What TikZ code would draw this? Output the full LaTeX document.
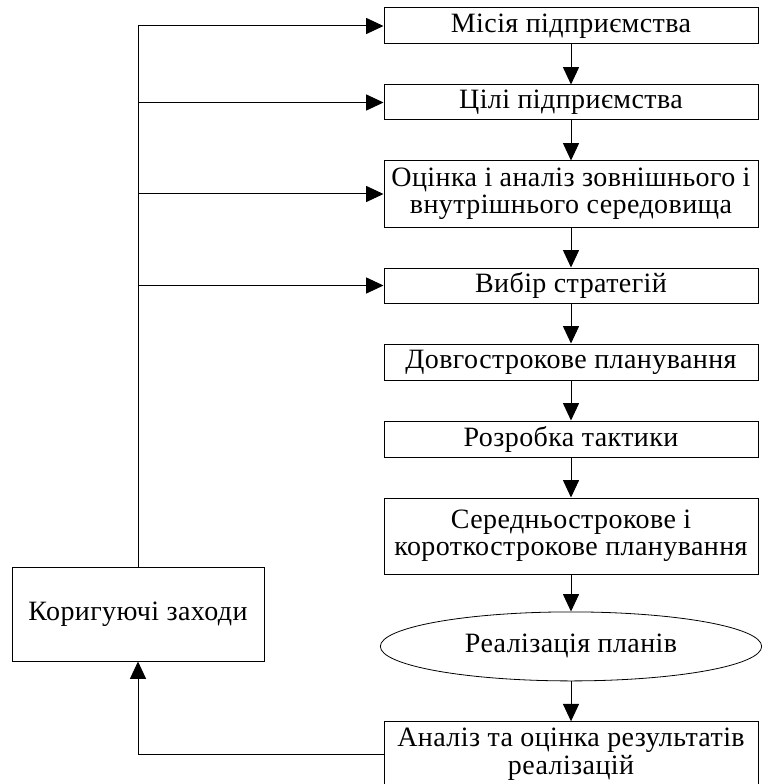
\documentclass[tikz,border=0pt]{standalone}
\usepackage{fontspec}
\setmainfont{Liberation Serif}
\usetikzlibrary{positioning,arrows.meta,shapes.geometric}

\begin{document}
\begin{tikzpicture}[
x=0.75pt,y=-0.75pt,
node distance=30pt,
box/.style={rectangle,draw,line width=0.75pt,minimum width=280.5pt,minimum height=27pt,
inner sep=1pt,align=center,font=\fontsize{21}{20.5}\selectfont\addfontfeature{LetterSpace=1.5}},
oval/.style={ellipse,draw,line width=0.6pt,minimum width=286pt,minimum height=51.75pt,
inner sep=0pt,font=\fontsize{21}{20.5}\selectfont\addfontfeature{LetterSpace=1.5}},
arrow/.style={-{Triangle[length=13pt,width=12pt]},line width=0.75pt},
line/.style={line width=0.75pt}
]
\useasboundingbox (0,0) rectangle (761,784);
\node[box] (mission) at (571,26) {Місія підприємства};
\node[box,below=of mission,minimum height=26.25pt] (goals) {Цілі підприємства};
\node[box,below=of goals,minimum height=49.5pt] (assess) {Оцінка і аналіз зовнішнього і\\внутрішнього середовища};
\node[box,below=of assess,minimum height=26.25pt] (choice) {Вибір стратегій};
\node[box,below=of choice] (longplan) {Довгострокове планування};
\node[box,below=of longplan] (tactics) {Розробка тактики};
\node[box,below=of tactics,minimum height=57pt] (midplan) {Середньострокове і\\короткострокове планування};
\node[oval,below=27.75pt of midplan] (realize) {Реалізація планів};
\node[box,below=of realize,minimum height=48.75pt] (review) {Аналіз та оцінка результатів\\реалізацій};
\node[box,minimum width=189pt,minimum height=70.5pt] (correct) at (138,614) {Коригуючі заходи};
% main chain
\foreach \a/\b in {mission/goals,goals/assess,assess/choice,choice/longplan,
longplan/tactics,tactics/midplan,midplan/realize,realize/review}
\draw[arrow] (\a) -- (\b);
% feedback
\draw[arrow] (review.west) -| (correct.south);
\draw[line] (correct.north) -- (correct.north |- mission.west);
\foreach \n in {mission,goals,assess,choice}
\draw[arrow] (correct.north |- \n.west) -- (\n.west);
\end{tikzpicture}
\end{document}
